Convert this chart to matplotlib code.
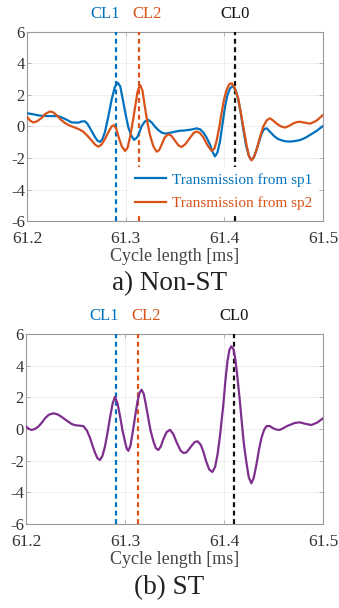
import matplotlib
matplotlib.use("Agg")
import matplotlib.pyplot as plt

plt.rcParams['font.family'] = ['Liberation Serif', 'DejaVu Serif']

# ---------------- data ----------------
x_sp1 = [61.200, 61.206, 61.212, 61.218, 61.225, 61.2317, 61.2385, 61.2453, 61.252, 61.2555,
         61.2588, 61.2615, 61.264, 61.2665, 61.269, 61.2715, 61.274, 61.2765, 61.279, 61.2824,
         61.2858, 61.289, 61.292, 61.2945, 61.2976, 61.300, 61.3027, 61.3055, 61.3085, 61.3115,
         61.3140, 61.3165, 61.3195, 61.323, 61.3265, 61.3297, 61.3335, 61.3370, 61.340, 61.345,
         61.350, 61.355, 61.3601, 61.366, 61.372, 61.3755, 61.3787, 61.382, 61.3855, 61.388,
         61.3905, 61.393, 61.3956, 61.398, 61.4007, 61.4030, 61.4055, 61.4085, 61.4115, 61.4140,
         61.4165, 61.4193, 61.4220, 61.4245, 61.4270, 61.4295, 61.4320, 61.4350, 61.4378, 61.4405,
         61.4430, 61.4465, 61.4500, 61.4540, 61.4581, 61.4620, 61.4666, 61.4720, 61.4767, 61.4820,
         61.4868, 61.4930, 61.500]
y_sp1 = [0.84, 0.78, 0.70, 0.67, 0.66, 0.66, 0.48, 0.26, 0.24, 0.32,
         0.33, 0.15, -0.12, -0.40, -0.68, -0.90, -0.98, -0.80, -0.35, 0.62,
         1.71, 2.50, 2.78, 2.55, 1.55, 0.75, -0.05, -0.55, -0.85, -0.70,
         -0.35, 0.05, 0.32, 0.42, 0.25, -0.01, -0.25, -0.40, -0.45, -0.40,
         -0.33, -0.27, -0.25, -0.20, -0.12, -0.18, -0.38, -0.70, -1.15, -1.60,
         -1.90, -1.65, -0.95, 0.10, 1.26, 1.95, 2.40, 2.57, 2.30, 1.75,
         0.90, -0.20, -1.20, -1.80, -2.10, -2.00, -1.60, -1.00, -0.45, -0.15,
         -0.12, -0.35, -0.58, -0.78, -0.88, -0.94, -0.96, -0.92, -0.86, -0.72,
         -0.54, -0.30, 0.03]

x_sp2 = [61.200, 61.203, 61.2064, 61.210, 61.215, 61.219, 61.2233, 61.2265, 61.230, 61.234,
         61.2385, 61.2435, 61.2486, 61.253, 61.257, 61.2615, 61.2656, 61.269, 61.2723, 61.2755,
         61.279, 61.2830, 61.2860, 61.2880, 61.2905, 61.2930, 61.2960, 61.2993, 61.3020, 61.3050,
         61.3075, 61.3100, 61.3120, 61.3145, 61.3170, 61.3196, 61.3222, 61.3247, 61.3280, 61.3314,
         61.3340, 61.3365, 61.3395, 61.3432, 61.3465, 61.350, 61.3535, 61.3568, 61.3605, 61.3652,
         61.369, 61.372, 61.375, 61.3787, 61.383, 61.3872, 61.3900, 61.3922, 61.3950, 61.3973,
         61.4000, 61.4024, 61.4050, 61.4075, 61.4105, 61.4140, 61.4165, 61.4193, 61.4226, 61.4250,
         61.4275, 61.4300, 61.4328, 61.4360, 61.4395, 61.4430, 61.4463, 61.4495, 61.4530, 61.4570,
         61.4615, 61.4660, 61.4700, 61.4735, 61.4767, 61.4810, 61.4868, 61.4930, 61.500]
y_sp2 = [0.62, 0.38, 0.26, 0.32, 0.55, 0.82, 0.95, 0.90, 0.72, 0.45,
         0.22, 0.05, -0.07, -0.18, -0.33, -0.60, -0.90, -1.15, -1.28, -1.15,
         -0.80, -0.30, 0.02, 0.08, -0.15, -0.70, -1.25, -1.55, -1.35, -0.50,
         0.40, 1.40, 2.20, 2.65, 2.30, 1.20, 0.20, -0.55, -1.25, -1.60,
         -1.50, -1.15, -0.70, -0.48, -0.60, -0.90, -1.20, -1.30, -1.12, -0.72,
         -0.40, -0.32, -0.40, -0.68, -1.20, -1.55, -1.40, -0.90, 0.00, 0.90,
         1.80, 2.35, 2.68, 2.74, 2.45, 1.80, 0.95, -0.05, -1.20, -1.90,
         -2.15, -1.95, -1.45, -0.70, 0.00, 0.40, 0.52, 0.38, 0.18, 0.02,
         -0.07, 0.05, 0.20, 0.28, 0.30, 0.25, 0.18, 0.35, 0.73]

x_st = [61.200, 61.203, 61.2058, 61.209, 61.2125, 61.216, 61.2192, 61.223, 61.2276, 61.232,
        61.2361, 61.2395, 61.2428, 61.246, 61.2495, 61.254, 61.258, 61.2615, 61.2646, 61.2672,
        61.2697, 61.2722, 61.2747, 61.2772, 61.2798, 61.2823, 61.2848, 61.2875, 61.2899, 61.2925,
        61.295, 61.2975, 61.300, 61.3018, 61.3034, 61.3055, 61.3078, 61.3101, 61.3125, 61.3148,
        61.3168, 61.3190, 61.3212, 61.3236, 61.3260, 61.3286, 61.3311, 61.3337, 61.3362, 61.3387,
        61.3420, 61.3455, 61.3490, 61.3522, 61.3560, 61.3590, 61.3620, 61.3650, 61.3674, 61.3705,
        61.3734, 61.3765, 61.3790, 61.3820, 61.3850, 61.3882, 61.3910, 61.3935, 61.3960, 61.3993,
        61.4015, 61.4035, 61.4055, 61.4074, 61.4095, 61.4115, 61.4135, 61.4158, 61.4180, 61.4200,
        61.4226, 61.4250, 61.4276, 61.4300, 61.4327, 61.4352, 61.4377, 61.4405, 61.4430, 61.4461,
        61.4495, 61.4530, 61.4562, 61.460, 61.4635, 61.4663, 61.4715, 61.4764, 61.4820, 61.4882,
        61.4940, 61.500]
y_st = [0.15, 0.00, -0.06, 0.00, 0.15, 0.40, 0.67, 0.90, 0.99, 0.92,
        0.76, 0.60, 0.46, 0.32, 0.24, 0.21, 0.18, -0.10, -0.55, -1.05,
        -1.50, -1.85, -1.96, -1.70, -1.10, -0.25, 0.70, 1.60, 2.04, 1.60,
        0.80, -0.10, -0.80, -1.25, -1.38, -1.05, -0.20, 0.75, 1.70, 2.30,
        2.48, 2.20, 1.50, 0.65, -0.15, -0.75, -1.20, -1.33, -1.10, -0.65,
        -0.20, -0.05, -0.35, -0.85, -1.35, -1.52, -1.48, -1.25, -1.05, -0.82,
        -0.78, -1.00, -1.40, -2.05, -2.55, -2.72, -2.40, -1.60, -0.40, 1.52,
        3.10, 4.30, 5.00, 5.22, 5.05, 4.40, 3.30, 1.90, 0.40, -0.90,
        -2.10, -3.05, -3.43, -3.10, -2.27, -1.35, -0.59, -0.05, 0.18, 0.19,
        0.05, -0.04, -0.06, 0.05, 0.18, 0.25, 0.38, 0.42, 0.33, 0.25,
        0.40, 0.67]

cl_names = ['CL1', 'CL2', 'CL0']
cl_pos = [61.2905, 61.3135, 61.4105]

xticks = [61.2, 61.3, 61.4, 61.5]
xticklabels = ['61.2', '61.3', '61.4', '61.5']
yticks = [-6, -4, -2, 0, 2, 4, 6]

legend_labels = ['Transmission from sp1', 'Transmission from sp2']
titles = ['a) Non-ST', '(b) ST']
xlabel = 'Cycle length [ms]'

# ---------------- style ----------------
BLUE = '#0072BD'
ORANGE = '#D95319'
PURPLE = '#7E2F8E'
cl_colors = [BLUE, ORANGE, '#111111']
label_offsets = [-11, 8, 0]  # pixel offsets of CL labels

fig = plt.figure(figsize=(3.39, 6.08), dpi=100)
ax1 = fig.add_axes([0.0796, 0.6365, 0.8732, 0.3109])
ax2 = fig.add_axes([0.0767, 0.1382, 0.8761, 0.3125])


def style_axes(ax):
    ax.set_xlim(61.2, 61.5)
    ax.set_ylim(-6, 6)
    ax.set_xticks(xticks)
    ax.set_xticklabels(xticklabels)
    ax.set_yticks(yticks)
    ax.set_yticklabels([str(t) for t in yticks])
    ax.grid(True, color='#ededed', linewidth=0.6)
    ax.set_axisbelow(True)
    ax.tick_params(direction='in', length=3, width=0.6, colors='#aaaaaa',
                   top=True, right=True, labelcolor='#333333')
    ax.tick_params(axis='x', labelsize=12.5, pad=7)
    ax.tick_params(axis='y', labelsize=12, pad=1.5)
    for sp in ax.spines.values():
        sp.set_color('#999999')
        sp.set_linewidth(0.8)
    ax.set_xlabel(xlabel, fontsize=13, color='#444444', labelpad=1)


def draw_cl(ax):
    for name, pos, col, off in zip(cl_names, cl_pos, cl_colors, label_offsets):
        ax.axvline(pos, color=col, linestyle=(0, (2.2, 1.6)), linewidth=1.6, zorder=3)
        ax.annotate(name, xy=(pos, 6), xycoords='data', xytext=(off, 10),
                    textcoords='offset pixels', ha='center', va='bottom',
                    color=col, fontsize=12)


style_axes(ax1)
draw_cl(ax1)
l1, = ax1.plot(x_sp1, y_sp1, color=BLUE, linewidth=1.6, zorder=4)
l2, = ax1.plot(x_sp2, y_sp2, color=ORANGE, linewidth=1.6, zorder=4)
leg = ax1.legend([l1, l2], legend_labels, loc='lower right', frameon=True,
                 fontsize=11, handlelength=2.0, handletextpad=0.4,
                 labelspacing=0.65, borderaxespad=0.3, fancybox=False,
                 edgecolor='none', facecolor='white', framealpha=1.0,
                 bbox_to_anchor=(1.0, 0.0))
for txt, col in zip(leg.get_texts(), [BLUE, ORANGE]):
    txt.set_color(col)
leg.set_zorder(5)

style_axes(ax2)
draw_cl(ax2)
ax2.plot(x_st, y_st, color=PURPLE, linewidth=1.6, zorder=4)

fig.text(0.5, 1 - 284 / 608, titles[0], ha='center', va='center', fontsize=19.5, color='#222222')
fig.text(0.5, 1 - 588 / 608, titles[1], ha='center', va='center', fontsize=19.5, color='#222222')

fig.savefig('out.png', dpi=100)
